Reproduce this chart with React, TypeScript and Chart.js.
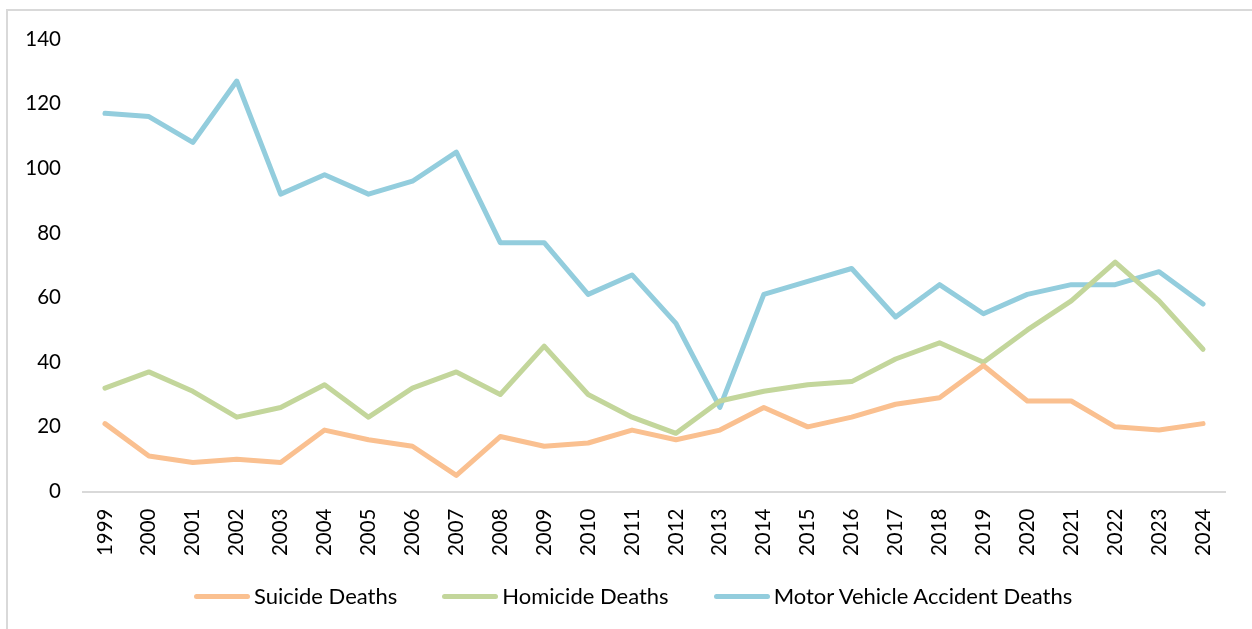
import React, { useEffect, useRef } from "react";
import { Chart, registerables } from "chart.js";

Chart.register(...registerables);

const years = [
  "1999", "2000", "2001", "2002", "2003", "2004", "2005", "2006", "2007", "2008",
  "2009", "2010", "2011", "2012", "2013", "2014", "2015", "2016", "2017", "2018",
  "2019", "2020", "2021", "2022", "2023", "2024",
];
const suicideDeaths = [21, 11, 9, 10, 9, 19, 16, 14, 5, 17, 14, 15, 19, 16, 19, 26, 20, 23, 27, 29, 39, 28, 28, 20, 19, 21];
const homicideDeaths = [32, 37, 31, 23, 26, 33, 23, 32, 37, 30, 45, 30, 23, 18, 28, 31, 33, 34, 41, 46, 40, 50, 59, 71, 59, 44];
const motorVehicleDeaths = [117, 116, 108, 127, 92, 98, 92, 96, 105, 77, 77, 61, 67, 52, 26, 61, 65, 69, 54, 64, 55, 61, 64, 64, 68, 58];

const seriesNames = ["Suicide Deaths", "Homicide Deaths", "Motor Vehicle Accident Deaths"];
const seriesColors = ["#FAC090", "#C3D69B", "#93CDDD"];

const FONT = "Lato, 'Open Sans', sans-serif";

export default function App() {
  const canvasRef = useRef<HTMLCanvasElement | null>(null);

  useEffect(() => {
    if (!canvasRef.current) return;
    const seriesData = [suicideDeaths, homicideDeaths, motorVehicleDeaths];
    const chart = new Chart(canvasRef.current, {
      type: "line",
      data: {
        labels: years,
        datasets: seriesNames.map((name, i) => ({
          label: name,
          data: seriesData[i],
          borderColor: seriesColors[i],
          backgroundColor: seriesColors[i],
          borderWidth: 5,
          borderCapStyle: "round",
          borderJoinStyle: "round",
          pointRadius: 0,
          pointHoverRadius: 0,
          tension: 0,
          fill: false,
        })),
      },
      options: {
        responsive: false,
        animation: false,
        layout: { padding: { left: 0, right: 27, top: 39, bottom: 0 } },
        plugins: {
          tooltip: { enabled: false },
          legend: { display: false },
        },
        scales: {
          x: {
            offset: true,
            grid: { display: false, drawTicks: false, offset: true },
            border: { display: true, color: "#d9d9d9", width: 2 },
            ticks: {
              color: "#000",
              minRotation: 90,
              maxRotation: 90,
              padding: 17,
              autoSkip: false,
              font: { family: FONT, size: 20.5 },
            },
            afterFit: (scale: any) => {
              scale.height = 137.5;
            },
          },
          y: {
            min: 0,
            max: 140,
            grid: { display: false, drawTicks: false },
            border: { display: false },
            ticks: {
              stepSize: 20,
              color: "#000",
              padding: 22,
              font: { family: FONT, size: 20.5 },
            },
            afterFit: (scale: any) => {
              scale.width = 83;
            },
          },
        },
      },
    });
    return () => chart.destroy();
  }, []);

  return (
    <div
      style={{
        position: "absolute",
        left: 0,
        top: 0,
        width: 1252,
        height: 629,
        overflow: "hidden",
        background: "#fff",
      }}
    >
      <div
        style={{
          position: "absolute",
          left: 6,
          top: 9,
          width: 1300,
          height: 700,
          border: "2px solid #d9d9d9",
        }}
      />
      <canvas
        ref={canvasRef}
        width={1252}
        height={629}
        style={{ position: "absolute", left: 0, top: 0 }}
      />
      <div
        style={{
          position: "absolute",
          left: 194,
          top: 583,
          height: 26,
          display: "flex",
          alignItems: "center",
          fontFamily: FONT,
          fontSize: 22,
          lineHeight: "26px",
          color: "#000",
          whiteSpace: "nowrap",
        }}
      >
        {seriesNames.map((name, i) => (
          <div
            key={name}
            style={{ display: "flex", alignItems: "center", marginRight: 45 }}
          >
            <span
              style={{
                display: "inline-block",
                width: 56,
                height: 5,
                borderRadius: 2.5,
                background: seriesColors[i],
                marginRight: 4,
              }}
            />
            <span>{name}</span>
          </div>
        ))}
      </div>
    </div>
  );
}
